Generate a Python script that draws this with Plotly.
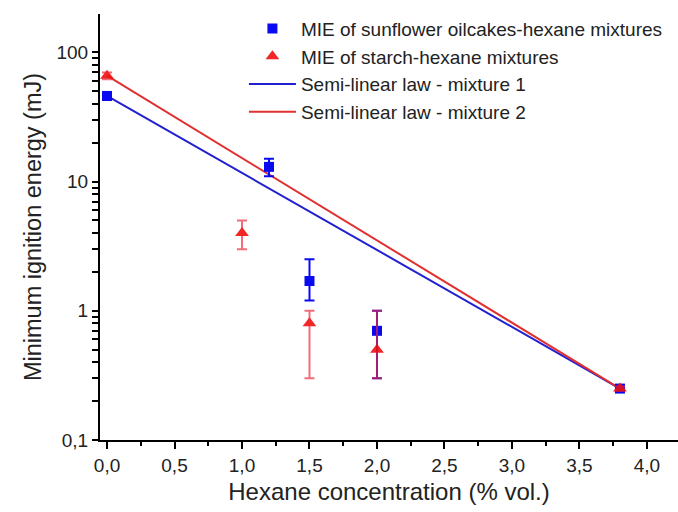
import plotly.graph_objects as go

# Minimum ignition energy versus hexane concentration
sun_x = [0.0, 1.2, 1.5, 2.0, 3.8]
sun_y = [46, 13, 1.7, 0.7, 0.25]
sun_err_plus = [3, 2, 0.8, 0.3, 0.01]
sun_err_minus = [3, 2, 0.5, 0.4, 0.01]

starch_x = [0.0, 1.0, 1.5, 2.0, 3.8]
starch_y = [66, 4.0, 0.8, 0.5, 0.25]
starch_err_plus = [4, 1.0, 0.2, 0.5, 0.01]
starch_err_minus = [4, 1.0, 0.5, 0.2, 0.01]

# Semi-linear law end points (log-linear between pure dust and LFL of hexane)
law1_x = [0.0, 3.8]
law1_y = [46, 0.25]
law2_x = [0.0, 3.8]
law2_y = [66, 0.25]

x_ticks = [0.0, 0.5, 1.0, 1.5, 2.0, 2.5, 3.0, 3.5, 4.0]
y_major = [0.1, 1, 10, 100]
y_major_text = ["0,1", "1", "10", "100"]
y_minor = [m * d for d in (0.1, 1, 10, 100) for m in range(2, 10) if m * d <= 200]
Y_RANGE = [-1, 2.297]

# major decades carry labels, the 2..9 subdivisions are unlabeled ticks
y_tickvals = y_major + y_minor
y_ticktext = y_major_text + [""] * len(y_minor)

BLUE = "#0a0af0"
RED = "#f01010"
FONT = "Liberation Sans, Arial, sans-serif"

fig = go.Figure()

fig.add_trace(go.Scatter(
    x=law1_x, y=law1_y, mode="lines", name="Semi-linear law - mixture 1",
    line=dict(color="#2020d0", width=2), legendrank=3,
))
fig.add_trace(go.Scatter(
    x=law2_x, y=law2_y, mode="lines", name="Semi-linear law - mixture 2",
    line=dict(color="#e03030", width=2), legendrank=4,
))
fig.add_trace(go.Scatter(
    x=sun_x, y=sun_y, mode="markers", name="MIE of sunflower oilcakes-hexane mixtures",
    marker=dict(symbol="square", size=10, color=BLUE),
    error_y=dict(type="data", symmetric=False, array=sun_err_plus,
                 arrayminus=sun_err_minus, color=BLUE, thickness=2, width=5),
    legendrank=1,
))
fig.add_trace(go.Scatter(
    x=starch_x, y=starch_y, mode="markers", name="MIE of starch-hexane mixtures",
    marker=dict(symbol="triangle-up", size=12, color=RED),
    error_y=dict(type="data", symmetric=False, array=starch_err_plus,
                 arrayminus=starch_err_minus, color="rgba(235,40,60,0.75)",
                 thickness=2, width=5),
    opacity=0.9,
    legendrank=2,
))

fig.update_layout(
    width=678, height=512,
    margin=dict(l=100, r=0, t=14, b=72),
    paper_bgcolor="white", plot_bgcolor="white",
    separators=",.",
    font=dict(family=FONT, size=19, color="#222"),
    showlegend=True,
    legend=dict(
        x=0.249, y=1.01, xanchor="left", yanchor="top",
        bgcolor="rgba(0,0,0,0)", font=dict(size=19, color="#222"),
        itemwidth=47, tracegroupgap=0,
    ),
    xaxis=dict(
        range=[-0.052, 4.23], tickvals=x_ticks, tickformat=".1f",
        showline=True, linecolor="black", linewidth=2,
        ticks="outside", ticklen=7, tickwidth=2, tickcolor="black",
        minor=dict(ticks="outside", ticklen=4, tickwidth=2, tickcolor="black", dtick=0.25),
        showgrid=False, zeroline=False, mirror=False,
        title=dict(text="Hexane concentration (% vol.)", font=dict(size=24), standoff=8),
    ),
    yaxis=dict(
        type="log", range=Y_RANGE, tickmode="array",
        tickvals=y_tickvals, ticktext=y_ticktext,
        showline=True, linecolor="black", linewidth=2,
        ticks="outside", ticklen=6, tickwidth=2, tickcolor="black",
        showgrid=False, zeroline=False, mirror=False,
        title=dict(text="Minimum ignition energy (mJ)", font=dict(size=23.5), standoff=8),
    ),
)

fig.write_html("out.html")
